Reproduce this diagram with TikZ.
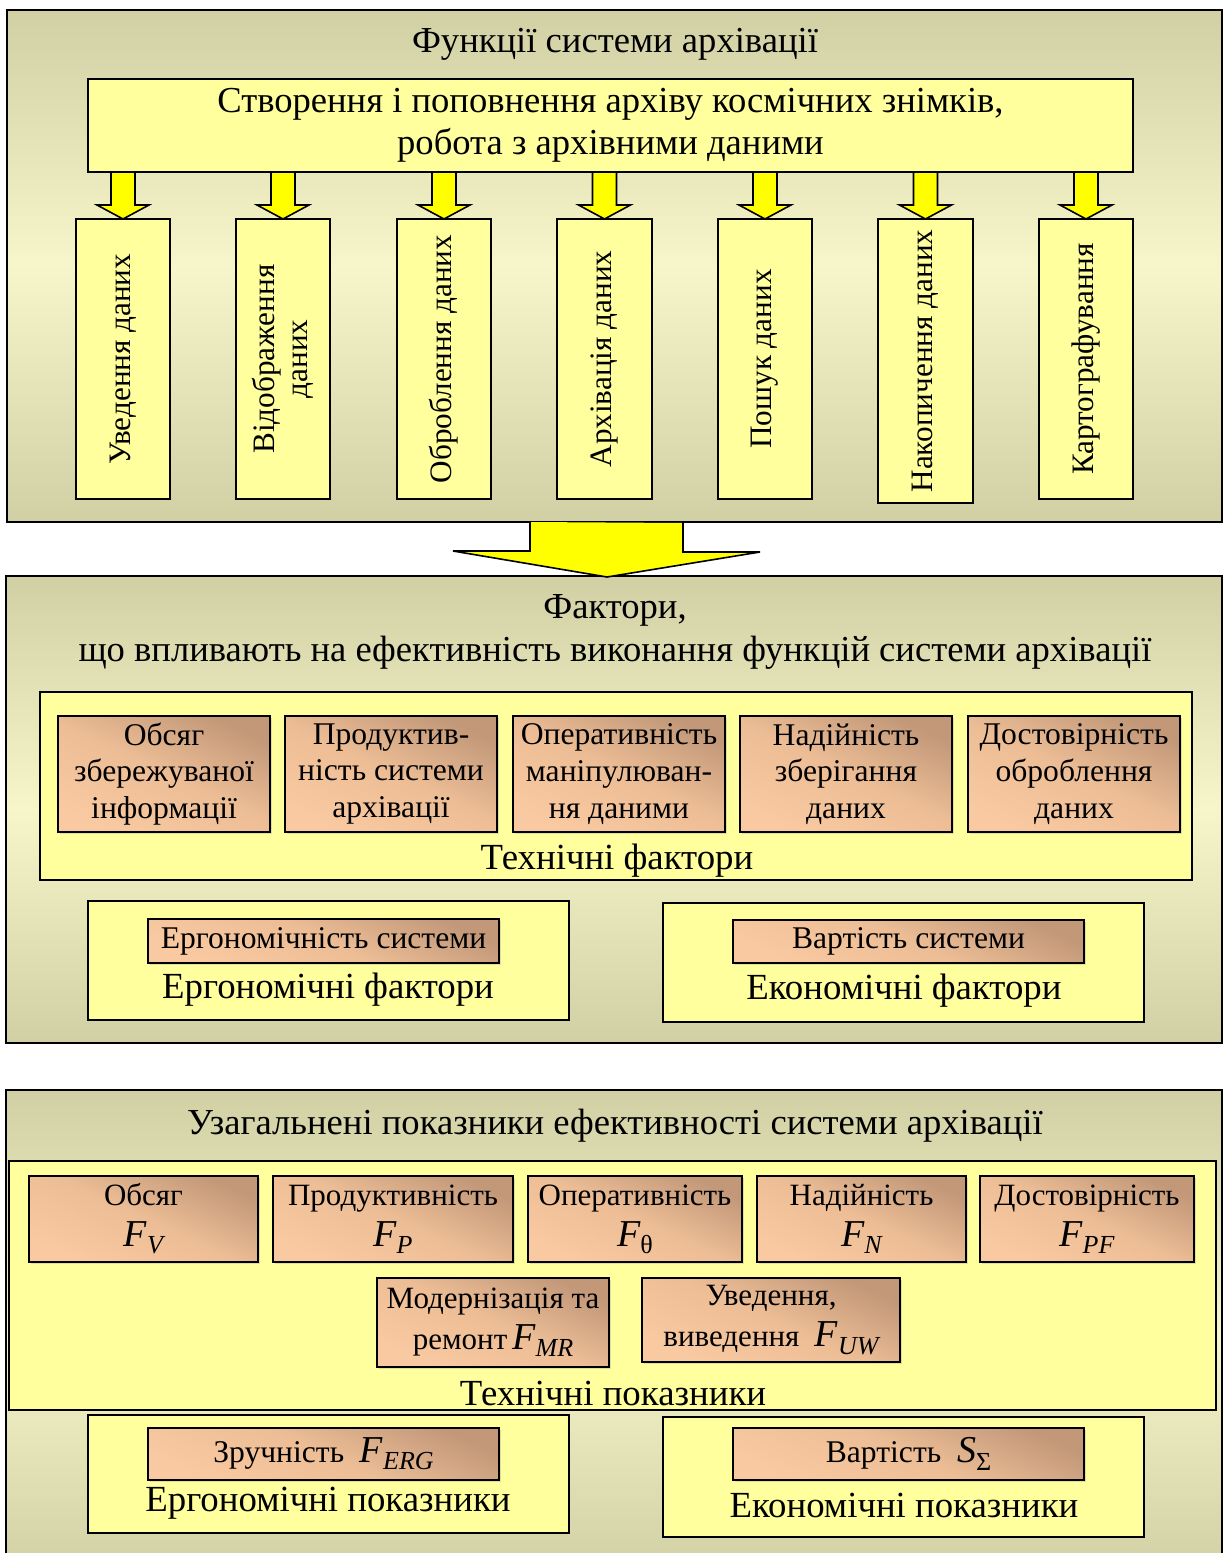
\documentclass[tikz,border=0pt]{standalone}
\usepackage{fontspec}
\setmainfont{Liberation Serif}
\usetikzlibrary{calc,shadows}

\definecolor{khaki}{HTML}{D1D0A5}
\definecolor{pale}{HTML}{F7F6CB}
\definecolor{boxyellow}{HTML}{FFFF9E}
\definecolor{arrowyellow}{HTML}{FFFF00}
\definecolor{tandark}{HTML}{C29879}
\definecolor{tanmid}{HTML}{EDBE96}
\definecolor{tanlight}{HTML}{F9CAA1}

% box given by its corners: style, x1, y1, x2, y2, name, text
\newcommand\bx[7]{\node[#1, anchor=north west, inner sep=0pt, outer sep=0pt,
  minimum width={(#4-#2)*0.5pt}, minimum height={(#5-#3)*0.5pt}] (#6) at (#2,#3) {#7};}
% italic quantity with italic index
\newcommand\Fsub[2]{{\fontsize{19}{19}\selectfont\itshape #1}\raisebox{-0.5ex}{\fontsize{13}{13}\selectfont\itshape #2}}
\newcommand\Fup[2]{{\fontsize{19}{19}\selectfont\itshape #1}\raisebox{-0.5ex}{\fontsize{13}{13}\selectfont #2}}

\tikzset{
  panel/.style={draw=black, line width=1pt, top color=khaki, bottom color=khaki, middle color=pale},
  ybox/.style={draw=black, line width=1pt, fill=boxyellow},
  tbox/.style={draw=black, line width=1pt, top color=tandark, bottom color=tanlight,
    middle color=tanmid, shading angle=-25,
    drop shadow={opacity=0.25, shadow xshift=1pt, shadow yshift=-1pt},
    align=center, font=\fontsize{15.8}{18.3}\selectfont},
  tboxb/.style={tbox, font=\fontsize{15.5}{20.5}\selectfont},
  yarrow/.style={draw=black, line width=0.8pt, fill=arrowyellow, line join=miter},
  bigtext/.style={font=\fontsize{18.3}{21.2}\selectfont, align=center},
  ttl/.style={bigtext, inner sep=0pt, yshift=-1pt},
  lbl/.style={font=\fontsize{18.4}{21}\selectfont, inner sep=0pt, yshift=-1.5pt},
  vtxt/.style={font=\fontsize{15.6}{16.5}\selectfont, align=center, inner sep=0pt, rotate=90}
}

\begin{document}
\begin{tikzpicture}[x=0.5pt, y=-0.5pt]
\useasboundingbox (0,0) rectangle (1224,1553);
\fill[white] (0,0) rectangle (1224,1553);

% ---------- functions of the archiving system ----------
\bx{panel}{7}{10}{1222}{522}{p1}{}
\node[ttl] (t1) at (615,42) {Функції системи архівації};
\bx{ybox, bigtext}{88}{79}{1133}{172}{cr}{Створення і поповнення архіву космічних знімків,\\ робота з архівними даними}

\bx{ybox}{76}{219}{170}{499}{v1}{}
\bx{ybox}{236}{219}{330}{499}{v2}{}
\bx{ybox}{397}{219}{491}{499}{v3}{}
\bx{ybox}{557}{219}{652}{499}{v4}{}
\bx{ybox}{718}{219}{812}{499}{v5}{}
\bx{ybox}{878}{219}{973}{503}{v6}{}
\bx{ybox}{1039}{219}{1133}{499}{v7}{}

\node[vtxt] (vt1) at (v1.center) {Уведення даних};
\node[vtxt] (vt2) at (v2.center) {Відображення\\ даних};
\node[vtxt] (vt3) at (v3.center) {Оброблення даних};
\node[vtxt] (vt4) at (v4.center) {Архівація даних};
\node[vtxt] (vt5) at (v5.center) {Пошук даних};
\node[vtxt] (vt6) at (v6.center) {Накопичення даних};
\node[vtxt] (vt7) at (v7.center) {Картографування};

\foreach \i in {1,...,7}{
  \draw[yarrow] ($(cr.south -| v\i.north)+(-12,0)$) -- ++(0,33) -- ++(-14,0)
    -- (v\i.north) -- ++(26,-14) -- ++(-14,0) -- ++(0,-33) -- cycle;
}

% ---------- factors ----------
\bx{panel}{6}{576}{1222}{1043}{p2}{}
\coordinate (bt) at (607,577);
\fill[arrowyellow] ($(p1.south -| bt)+(-77,0)$) -- ++(0,29) -- ++(-77,0) -- (bt)
  -- ++(153,-25) -- ++(-77,0) -- ++(0,-29) -- cycle;
\draw[black, line width=0.8pt, line join=miter] ($(p1.south -| bt)+(-77,0)$) -- ++(0,29) -- ++(-77,0) -- (bt)
  -- ++(153,-25) -- ++(-77,0) -- ++(0,-29);

\node[ttl] (t2) at (615,630) {Фактори,\\ що впливають на ефективність виконання функцій системи архівації};

\bx{ybox}{40}{692}{1192}{880}{tf}{}
\bx{tbox}{58}{716}{270}{832}{f1}{Обсяг\\ збережуваної\\ інформації}
\bx{tbox}{285}{716}{497}{832}{f2}{Продуктив-\\ ність системи\\ архівації}
\bx{tbox}{513}{716}{725}{832}{f3}{Оперативність\\ маніпулюван-\\ ня даними}
\bx{tbox}{740}{716}{952}{832}{f4}{Надійність\\ зберігання\\ даних}
\bx{tbox}{968}{716}{1180}{832}{f5}{Достовірність\\ оброблення\\ даних}
\node[lbl] (tfl) at (617,858) {Технічні фактори};

\bx{ybox}{88}{901}{569}{1020}{ef}{}
\bx{tbox}{148}{919}{499}{963}{ef1}{Ергономічність системи}
\node[lbl] (efl) at (328,987) {Ергономічні фактори};

\bx{ybox}{663}{903}{1144}{1022}{cf}{}
\bx{tbox}{733}{920}{1084}{963}{cf1}{Вартість системи}
\node[lbl] (cfl) at (904,988) {Економічні фактори};

% ---------- generalized indicators ----------
\bx{panel}{6}{1090}{1222}{1575}{p3}{}
\node[ttl] (t3) at (615,1124) {Узагальнені показники ефективності системи архівації};

\bx{ybox}{9}{1161}{1216}{1410}{ti}{}
\bx{tboxb}{29}{1176}{258}{1262}{i1}{Обсяг\\ \Fsub{F}{V}}
\bx{tboxb}{273}{1176}{513}{1262}{i2}{Продуктивність\\ \Fsub{F}{P}}
\bx{tboxb}{528}{1176}{742}{1262}{i3}{Оперативність\\ \Fup{F}{θ}}
\bx{tboxb}{757}{1176}{966}{1262}{i4}{Надійність\\ \Fsub{F}{N}}
\bx{tboxb}{980}{1176}{1194}{1262}{i5}{Достовірність\\ \Fsub{F}{PF}}
\bx{tboxb}{377}{1278}{609}{1367}{i6}{Модернізація та\\ ремонт\,\Fsub{F}{MR}}
\bx{tboxb}{642}{1278}{900}{1362}{i7}{Уведення,\\ виведення \ \Fsub{F}{UW}}
\node[lbl] (til) at (613,1390) {Технічні показники};

\bx{ybox}{88}{1415}{569}{1533}{ei}{}
\bx{tbox}{148}{1428}{499}{1480}{ei1}{Зручність \ \Fsub{F}{ERG}}
\node[lbl] (eil) at (328,1500) {Ергономічні показники};

\bx{ybox}{663}{1417}{1144}{1537}{ci}{}
\bx{tbox}{733}{1428}{1084}{1480}{ci1}{Вартість \ \Fup{S}{Σ}}
\node[lbl] (cil) at (904,1502) {Економічні показники};
\end{tikzpicture}
\end{document}
